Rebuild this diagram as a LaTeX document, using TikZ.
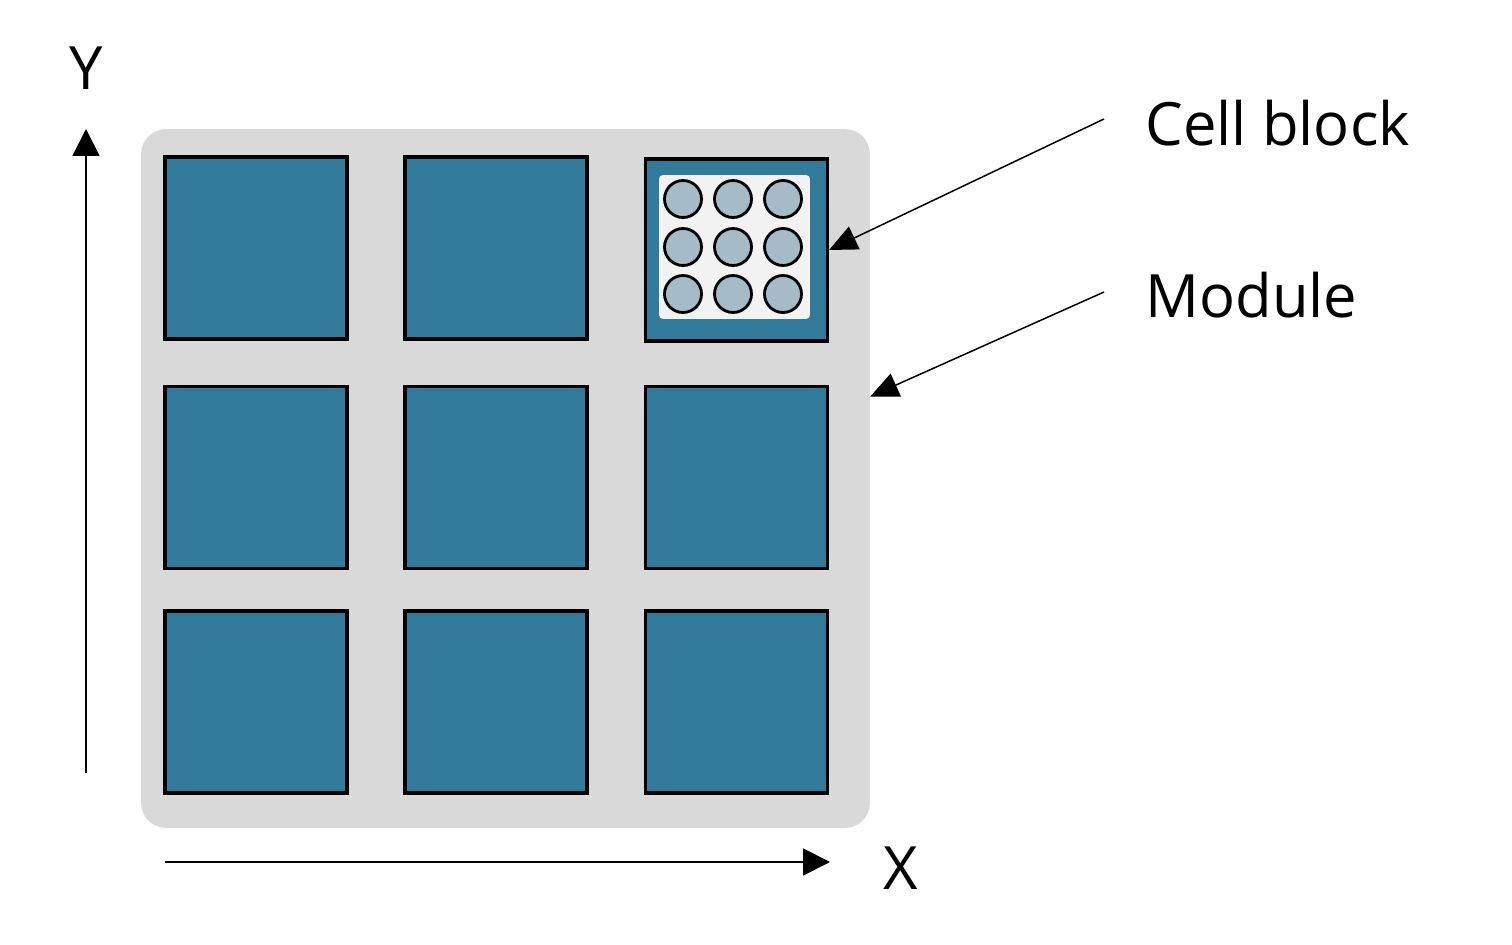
\documentclass[tikz,border=0pt]{standalone}
\usepackage{fontspec}
\setmainfont{Open Sans}
\usetikzlibrary{arrows.meta}
\definecolor{blockblue}{RGB}{49,122,153}
\definecolor{cellgray}{RGB}{165,187,199}
\definecolor{modgray}{RGB}{217,217,217}
\definecolor{packwhite}{RGB}{242,242,242}

\begin{document}
\begin{tikzpicture}[x=0.02cm, y=-0.02cm,
    block/.style={draw, line width=1.8pt, fill=blockblue, minimum size=3.64cm, inner sep=0pt},
    cell/.style={circle, draw, line width=1.6pt, fill=cellgray, minimum size=0.74cm, inner sep=0pt},
    txt/.style={font=\fontsize{34}{40}\selectfont, inner sep=0pt},
    axisarrow/.style={line width=1.1pt, -{Triangle[length=0.54cm, width=0.54cm]}},
    callout/.style={line width=0.85pt, -{Triangle[length=0.56cm, width=0.5cm]}}]
        \useasboundingbox (0,0) rectangle (1512,945);

        % module
        \node[fill=modgray, rounded corners=0.5cm, minimum width=14.58cm, minimum height=13.98cm] (module) at (505.5,478.5) {};

        % blocks
        \node[block] (b11) at (256,248) {};
        \node[block] (b12) at (496,248) {};
        \node[block] (b13) at (736.5,250) {};
        \node[block] (b21) at (256,477.5) {};
        \node[block] (b22) at (496,477.5) {};
        \node[block] (b23) at (736.5,477.5) {};
        \node[block] (b31) at (256,702) {};
        \node[block] (b32) at (496,702) {};
        \node[block] (b33) at (736.5,702) {};

        % cells in one block
        \node[fill=packwhite, rounded corners=0.08cm, minimum width=3.02cm, minimum height=2.88cm] (pack) at (734.5,247) {};
        \node[cell] (c11) at (683,199) {};
        \node[cell] (c12) at (733,199) {};
        \node[cell] (c13) at (783,199) {};
        \node[cell] (c21) at (683,247) {};
        \node[cell] (c22) at (733,247) {};
        \node[cell] (c23) at (783,247) {};
        \node[cell] (c31) at (683,294) {};
        \node[cell] (c32) at (733,294) {};
        \node[cell] (c33) at (783,294) {};

        % axes
        \coordinate (yfrom) at (86,773);
        \coordinate (yto) at (86,129);
        \coordinate (xfrom) at (165,862);
        \coordinate (xto) at (830,862);
        \draw[axisarrow] (yfrom) -- (yto);
        \draw[axisarrow] (xfrom) -- (xto);
        \node[txt] (ylab) at (86,68) {Y};
        \node[txt] (xlab) at (901,868) {X};

        % labels
        \node[txt, anchor=base west] (celltxt) at (1145,146) {Cell block};
        \node[txt, anchor=base west] (modtxt) at (1145,318) {Module};
        \coordinate (cellfrom) at (1104,119);
        \coordinate (modfrom) at (1104,292);
        \draw[callout] (cellfrom) -- (b13.east);
        \draw[callout] (modfrom) -- ([yshift=1.64cm]module.east);
      \end{tikzpicture}
\end{document}
